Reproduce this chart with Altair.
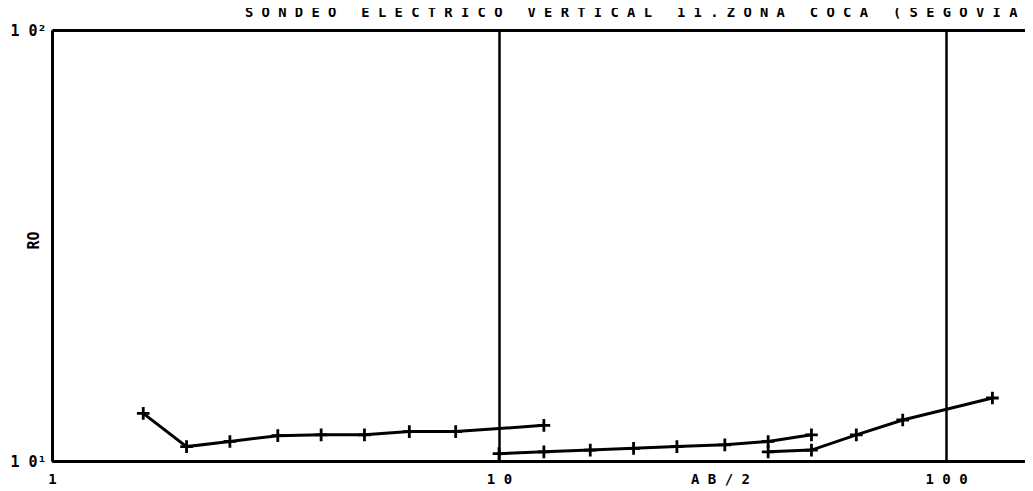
import altair as alt
import pandas as pd

TS = "\u2009"  # spacer to mimic the wide plotter character pitch

def spaced(s):
    return TS.join(list(s))

# --- data ---
seg1_ab = [1.6, 2.0, 2.5, 3.2, 4.0, 5.0, 6.3, 8.0, 12.6]
seg1_ro = [12.9, 10.8, 11.1, 11.45, 11.5, 11.5, 11.7, 11.7, 12.1]

seg2_ab = [10, 12.6, 16, 20, 25, 32, 40, 50]
seg2_ro = [10.4, 10.5, 10.6, 10.7, 10.8, 10.9, 11.1, 11.5]

seg3_ab = [40, 50, 63, 80, 127]
seg3_ro = [10.5, 10.6, 11.5, 12.45, 14.0]

x_ticks = [1, 10, 100]
x_tick_labels = ["1", "10", "100"]
y_ticks = [10, 100]
y_tick_labels = ["10\u00b9", "10\u00b2"]

# the reference title runs off the right edge after "(SEGOVIA"
title_text = "SONDEO ELECTRICO VERTICAL 11.ZONA COCA (SEGOVIA"
x_title = "AB/2"
y_title = "RO"

rows = []
for seg, (abs_, ros) in enumerate([(seg1_ab, seg1_ro), (seg2_ab, seg2_ro), (seg3_ab, seg3_ro)]):
    for i, (a, r) in enumerate(zip(abs_, ros)):
        rows.append({"seg": seg, "idx": i, "ab2": a, "ro": r})
df = pd.DataFrame(rows)

FONT = "DejaVu Sans Mono"

x_label_expr = " : ".join(
    [f"datum.value == {v} ? '{spaced(t)}'" for v, t in zip(x_ticks[:-1], x_tick_labels[:-1])]
    + [f"'{spaced(x_tick_labels[-1])}'"]
)
y_label_expr = (
    f"datum.value == {y_ticks[0]} ? '{spaced(y_tick_labels[0][:2])}{y_tick_labels[0][2:]}'"
    f" : '{spaced(y_tick_labels[1][:2])}{y_tick_labels[1][2:]}'"
)

x_enc = alt.X(
    "ab2:Q",
    scale=alt.Scale(type="log", domain=[1, 150.2], nice=False),
    axis=alt.Axis(
        values=x_ticks,
        labelExpr=x_label_expr,
        title=spaced(x_title),
        titleX=668,
        titleY=11,
        titleBaseline="top",
        titleAlign="center",
        titleFont=FONT,
        titleFontSize=14,
        titleFontWeight="bold",
        titleColor="black",
        grid=True,
        gridColor="black",
        gridWidth=2.5,
        gridOpacity=1,
        domainColor="black",
        domainWidth=3,
        ticks=False,
        labelPadding=11,
        labelFont=FONT,
        labelFontSize=14,
        labelFontWeight="bold",
        labelColor="black",
        labelFlush=False,
        labelOverlap=False,
    ),
)
y_enc = alt.Y(
    "ro:Q",
    scale=alt.Scale(type="log", domain=[10, 100], nice=False),
    axis=alt.Axis(
        values=y_ticks,
        labelExpr=y_label_expr,
        title=y_title,
        titleX=-19,
        titleY=210,
        titleAngle=-90,
        titleAlign="center",
        titleBaseline="middle",
        titleFont=FONT,
        titleFontSize=15,
        titleFontWeight="bold",
        titleColor="black",
        grid=True,
        gridColor="black",
        gridWidth=3,
        gridOpacity=1,
        domainColor="black",
        domainWidth=3,
        ticks=False,
        labelPadding=6,
        labelFont=FONT,
        labelFontSize=15,
        labelFontWeight="bold",
        labelColor="black",
        labelBaseline="middle",
        labelFlush=False,
        labelOverlap=False,
    ),
)

base = alt.Chart(df)
lines = base.mark_line(color="black", strokeWidth=3).encode(
    x=x_enc, y=y_enc, detail="seg:N", order="idx:Q"
)
points = base.mark_point(
    shape="M-1,0L1,0M0,-1L0,1", size=160, strokeWidth=2.8, color="black", filled=False, opacity=1
).encode(x="ab2:Q", y="ro:Q")

title_df = pd.DataFrame({"t": [spaced(title_text)]})
title = alt.Chart(title_df).mark_text(
    align="left", baseline="alphabetic", font=FONT, fontSize=13.8, fontWeight="bold", color="black"
).encode(text="t:N", x=alt.value(193), y=alt.value(-13))

chart = (
    alt.layer(lines, points, title)
    .properties(
        width=973,
        height=431,
        autosize=alt.AutoSizeParams(type="none"),
        padding={"left": 44, "top": 22, "right": 0, "bottom": 28},
        background="white",
    )
    .configure_view(stroke=None)
)

chart.save("out.html", embed_options={"renderer": "svg", "actions": False})
